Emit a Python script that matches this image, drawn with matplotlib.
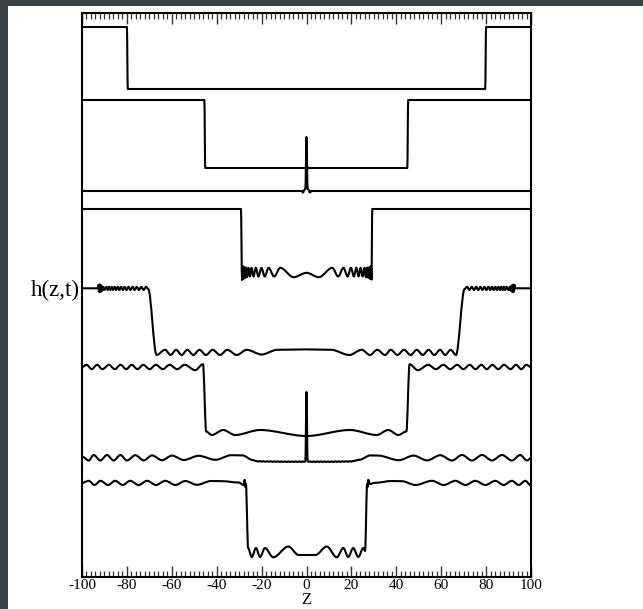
import matplotlib
matplotlib.use("Agg")
import matplotlib.pyplot as plt
from matplotlib.path import Path
from matplotlib.patches import PathPatch, Rectangle
from matplotlib.ticker import MultipleLocator

plt.rcParams["font.family"] = ["Liberation Serif", "DejaVu Serif"]
plt.rcParams["axes.unicode_minus"] = False

# ---------------------------------------------------------------------------
# Interface profiles h(z,t), stacked from top to bottom; each is (z, h) knots
# ---------------------------------------------------------------------------
curve_a = [(-100, 55.0), (-80.0, 55.0), (-79.6, 48.8), (79.6, 48.8), (80.0, 55.0), (100, 55.0)]

curve_b = [(-100, 47.7), (-45.5, 47.7), (-45.1, 40.9), (44.9, 40.9), (45.3, 47.7), (100, 47.7)]

curve_c = [(-100, 38.6), (-2.2, 38.6), (-1.5, 38.45), (-1.0, 38.7), (-0.5, 38.8), (0.0, 44.0),
           (0.5, 38.8), (1.0, 38.7), (1.5, 38.45), (2.2, 38.6), (100, 38.6)]

curve_d = [(-100, 36.8), (-29.2, 36.8), (-28.7, 29.7), (-28.4, 31.1), (-28.1, 29.8), (-27.8, 31.0),
           (-27.4, 29.9), (-27.0, 30.95), (-26.5, 29.98), (-25.9, 30.92), (-25.2, 30.05), (-24.5, 30.92),
           (-23.6, 30.05), (-22.6, 30.92), (-21.4, 30.05), (-20.1, 30.92), (-18.6, 30.05), (-16.9, 30.92),
           (-14.4, 30.05), (-11.7, 30.92), (-5.7, 29.98), (0.0, 30.42), (5.5, 29.98), (11.5, 30.92),
           (14.1, 30.05), (16.5, 30.92), (18.3, 30.05), (19.8, 30.92), (21.1, 30.05), (22.2, 30.92),
           (23.2, 30.05), (24.1, 30.92), (25.0, 30.05), (25.8, 30.92), (26.5, 29.98), (27.1, 30.95),
           (27.6, 29.9), (28.0, 31.0), (28.4, 29.8), (28.7, 31.1), (28.95, 29.75), (29.3, 36.8),
           (100, 36.8)]

curve_e = [(-100, 28.87), (-93.0, 28.87), (-92.7, 29.2), (-92.45, 28.55), (-92.2, 29.25), (-91.95, 28.5),
           (-91.7, 29.2), (-91.45, 28.55), (-91.2, 29.1), (-90.95, 28.65), (-90.6, 29.02), (-90.0, 28.7),
           (-89.1, 29.02), (-88.5, 28.7), (-88.0, 29.02), (-87.4, 28.7), (-86.8, 29.02), (-86.15, 28.7),
           (-85.5, 29.02), (-84.8, 28.7), (-84.1, 29.02), (-83.35, 28.7), (-82.6, 29.02), (-81.8, 28.7),
           (-81.0, 29.02), (-80.15, 28.7), (-79.3, 29.02), (-78.4, 28.7), (-77.5, 29.02), (-76.55, 28.7),
           (-75.6, 29.02), (-74.6, 28.7), (-73.6, 29.02), (-72.55, 28.7), (-71.5, 29.02), (-70.5, 28.8),
           (-66.8, 22.2), (-63.0, 22.72), (-60.5, 22.2), (-58.1, 22.72), (-55.6, 22.2), (-53.1, 22.72),
           (-50.4, 22.2), (-47.7, 22.72), (-44.8, 22.2), (-41.8, 22.72), (-38.5, 22.2), (-35.3, 22.72),
           (-31.1, 22.2), (-26.6, 22.72), (-20.0, 22.25), (-13.0, 22.72), (0.0, 22.76), (11.0, 22.72),
           (19.1, 22.2), (24.6, 22.72), (28.3, 22.2), (31.5, 22.72), (35.0, 22.2), (37.5, 22.72),
           (40.5, 22.2), (43.4, 22.72), (46.4, 22.2), (49.1, 22.72), (51.8, 22.2), (54.4, 22.72),
           (56.9, 22.2), (59.5, 22.72), (61.8, 22.2), (64.2, 22.72), (66.6, 22.2), (70.4, 28.8),
           (71.5, 29.02), (72.55, 28.7), (73.6, 29.02), (74.6, 28.7), (75.6, 29.02), (76.55, 28.7),
           (77.5, 29.02), (78.4, 28.7), (79.3, 29.02), (80.15, 28.7), (81.0, 29.02), (81.8, 28.7),
           (82.6, 29.02), (83.35, 28.7), (84.1, 29.02), (84.8, 28.7), (85.5, 29.02), (86.15, 28.7),
           (86.8, 29.02), (87.4, 28.7), (88.0, 29.02), (88.5, 28.7), (89.1, 29.02), (90.0, 28.7),
           (90.6, 29.02), (90.95, 28.65), (91.2, 29.1), (91.45, 28.55), (91.7, 29.2), (91.95, 28.5),
           (92.2, 29.25), (92.45, 28.55), (92.7, 29.2), (93.0, 28.87), (100, 28.87)]

curve_f = [(-100, 21.0), (-97.9, 21.22), (-95.7, 20.78), (-93.3, 21.22), (-90.9, 20.78), (-88.0, 21.22),
           (-85.4, 20.78), (-82.8, 21.22), (-80.3, 20.78), (-77.9, 21.22), (-75.3, 20.78), (-72.7, 21.22),
           (-69.9, 20.78), (-67.1, 21.22), (-64.0, 20.78), (-61.0, 21.22), (-57.6, 20.78), (-54.3, 21.22),
           (-49.6, 20.68), (-46.1, 21.28), (-44.7, 14.55), (-42.2, 14.2), (-37.1, 14.7), (-31.8, 14.2),
           (-20.7, 14.7), (0.0, 14.1), (19.4, 14.7), (31.3, 14.2), (36.4, 14.7), (40.9, 14.2),
           (44.5, 14.55), (45.9, 21.28), (49.6, 20.68), (54.3, 21.22), (57.6, 20.78), (61.0, 21.22),
           (64.0, 20.78), (67.1, 21.22), (69.9, 20.78), (72.7, 21.22), (75.3, 20.78), (77.9, 21.22),
           (80.3, 20.78), (82.8, 21.22), (85.4, 20.78), (88.0, 21.22), (90.9, 20.78), (93.3, 21.22),
           (95.7, 20.78), (97.9, 21.22), (100, 21.0)]

curve_g = [(-100, 12.05), (-97.0, 11.65), (-94.8, 12.2), (-91.8, 11.65), (-88.9, 12.2), (-85.9, 11.65),
           (-82.9, 12.2), (-80.0, 11.65), (-76.2, 12.18), (-72.5, 11.66), (-68.8, 12.16), (-64.4, 11.68),
           (-59.9, 12.14), (-54.7, 11.7), (-48.0, 12.12), (-40.6, 11.72), (-33.5, 12.18), (-28.5, 12.16),
           (-24.0, 11.7), (-22.4, 11.6), (-21.6, 11.54), (-20.8, 11.6), (-20.0, 11.53), (-19.2, 11.59),
           (-18.4, 11.52), (-17.6, 11.58), (-16.8, 11.52), (-16.0, 11.58), (-15.2, 11.51), (-14.4, 11.57),
           (-13.6, 11.51), (-12.8, 11.57), (-12.0, 11.5), (-11.2, 11.56), (-10.4, 11.5), (-9.6, 11.56),
           (-8.8, 11.5), (-8.0, 11.56), (-7.2, 11.5), (-6.4, 11.56), (-5.6, 11.5), (-4.8, 11.56),
           (-4.0, 11.5), (-3.2, 11.56), (-2.4, 11.5), (-1.6, 11.56), (-1.0, 11.5), (-0.5, 11.58),
           (0.0, 18.5), (0.5, 11.58), (1.0, 11.5), (1.6, 11.56), (2.4, 11.5), (3.2, 11.56),
           (4.0, 11.5), (4.8, 11.56), (5.6, 11.5), (6.4, 11.56), (7.2, 11.5), (8.0, 11.56),
           (8.8, 11.5), (9.6, 11.56), (10.4, 11.5), (11.2, 11.56), (12.0, 11.5), (12.8, 11.57),
           (13.6, 11.51), (14.4, 11.57), (15.2, 11.51), (16.0, 11.58), (16.8, 11.52), (17.6, 11.58),
           (18.4, 11.52), (19.2, 11.59), (20.0, 11.53), (20.8, 11.6), (23.5, 11.72), (28.5, 12.16),
           (32.0, 12.14), (41.1, 11.68), (47.7, 12.14), (53.7, 11.66), (59.6, 12.18), (64.8, 11.65),
           (69.3, 12.2), (73.7, 11.65), (78.2, 12.2), (82.6, 11.65), (87.1, 12.2), (91.5, 11.65),
           (95.2, 12.2), (98.2, 11.65), (100, 11.9)]

curve_h = [(-100, 9.4), (-97.0, 9.62), (-94.4, 9.2), (-91.8, 9.62), (-88.4, 9.2), (-85.2, 9.62),
           (-81.9, 9.2), (-78.5, 9.62), (-74.8, 9.2), (-71.0, 9.62), (-67.0, 9.2), (-62.9, 9.62),
           (-58.4, 9.2), (-54.0, 9.6), (-48.8, 9.22), (-42.5, 9.6), (-37.5, 9.58), (-30.2, 9.45),
           (-28.0, 9.2), (-27.5, 9.72), (-27.25, 9.0), (-27.0, 9.3), (-26.0, 2.9), (-24.4, 2.0),
           (-22.5, 2.9), (-20.7, 2.0), (-18.5, 2.9), (-14.8, 1.97), (-8.1, 3.05), (-3.5, 2.2),
           (4.0, 2.2), (9.0, 3.05), (13.5, 1.97), (16.4, 2.9), (18.6, 2.0), (20.8, 2.9), (23.1, 2.0),
           (25.3, 2.9), (26.1, 2.6), (27.0, 9.3), (27.25, 9.0), (27.5, 9.72), (28.2, 9.3), (30.5, 9.42),
           (38.1, 9.6), (42.5, 9.58), (48.5, 9.2), (55.9, 9.62), (61.1, 9.2), (66.3, 9.62), (70.8, 9.2),
           (75.2, 9.62), (79.7, 9.2), (84.1, 9.62), (87.8, 9.2), (91.5, 9.62), (94.5, 9.2), (97.5, 9.62),
           (99.7, 9.2), (100, 9.22)]

profiles = [curve_a, curve_b, curve_c, curve_d, curve_e, curve_f, curve_g, curve_h]

x_ticks = [-100, -80, -60, -40, -20, 0, 20, 40, 60, 80, 100]
x_label = "Z"
y_label = "h(z,t)"


def smooth_path(points):
    """Cubic path through the knots with flat tangents at every knot."""
    z = [p[0] for p in points]
    h = [p[1] for p in points]
    verts = [(z[0], h[0])]
    codes = [Path.MOVETO]
    for i in range(1, len(z)):
        d = (z[i] - z[i - 1]) / 3.0
        verts += [(z[i - 1] + d, h[i - 1]), (z[i] - d, h[i]), (z[i], h[i])]
        codes += [Path.CURVE4] * 3
    return Path(verts, codes)


fig = plt.figure(figsize=(6.43, 6.09), dpi=100)
fig.patch.set_facecolor("white")

# dark window frame along the top and left edges
frame = "#3a4246"
fig.patches.append(Rectangle((0, 1 - 6 / 609), 1, 6 / 609, transform=fig.transFigure,
                             facecolor=frame, edgecolor="none", zorder=0))
fig.patches.append(Rectangle((0, 0), 8 / 643, 1, transform=fig.transFigure,
                             facecolor=frame, edgecolor="none", zorder=0))

ax = fig.add_axes([82 / 643, 1 - 577 / 609, (531 - 82) / 643, (577 - 13) / 609])

for prof in profiles:
    ax.add_patch(PathPatch(smooth_path(prof), fill=False, edgecolor="black",
                           linewidth=1.5, joinstyle="round", capstyle="round"))

ax.set_xlim(-100, 100)
ax.set_ylim(0, 56.4)
ax.set_yticks([])

ax.set_xticks(x_ticks)
ax.set_xticklabels([str(v) for v in x_ticks])
ax.xaxis.set_minor_locator(MultipleLocator(2))
ax.tick_params(axis="x", which="both", direction="in", top=True, bottom=True,
               labelsize=11, pad=1.5, color="#333333")
ax.tick_params(axis="x", which="major", length=8, width=1.0)
ax.tick_params(axis="x", which="minor", length=4.3, width=0.9)
for t in ax.xaxis.get_major_ticks() + ax.xaxis.get_minor_ticks():
    t.tick2line.set_color("#8c8c8c")

for s in ax.spines.values():
    s.set_linewidth(1.5)
    s.set_color("black")

fig.text(306.5 / 643, 1 - 608 / 609, x_label, ha="center", va="bottom", fontsize=12)
fig.text(80 / 643, 1 - 290 / 609, y_label, ha="right", va="center", fontsize=16.5)

fig.savefig("out.png", dpi=100, facecolor="white")
